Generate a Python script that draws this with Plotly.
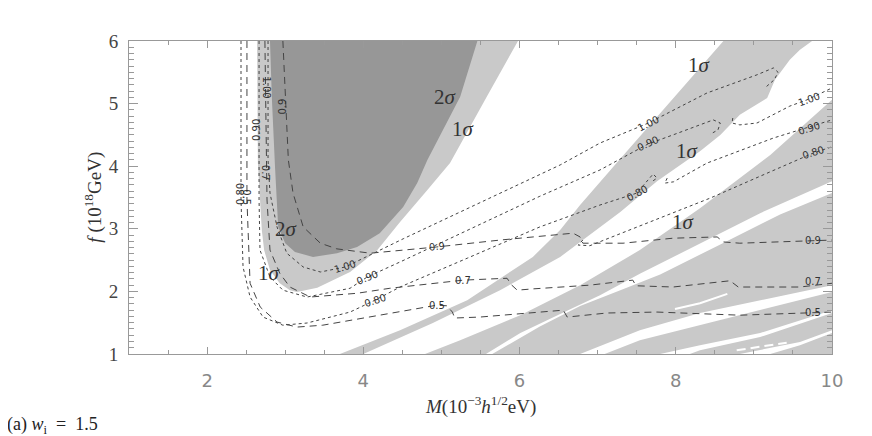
import plotly.graph_objects as go

# ---- shaded regions (M in 1e-3 h^1/2 eV, f in 1e18 GeV) ----
one_sig_M = [2.64, 2.65, 2.70, 2.73, 2.805, 2.93, 3.06, 3.15, 3.41, 3.83, 4.18, 4.47, 4.82, 5.11, 5.58, 5.98]
one_sig_f = [6.0, 4.05, 2.98, 2.66, 2.34, 2.13, 2.02, 1.99, 2.06, 2.31, 2.66, 3.11, 3.62, 4.05, 5.11, 6.0]

two_sig_M = [2.805, 2.83, 2.87, 2.895, 2.91, 3.00, 3.125, 3.356, 3.663, 3.92, 4.21, 4.51, 4.69, 4.82, 4.99, 5.24, 5.46]
two_sig_f = [6.0, 5.06, 3.97, 3.30, 3.03, 2.77, 2.63, 2.55, 2.61, 2.71, 2.93, 3.35, 3.73, 4.10, 4.50, 5.11, 6.0]

band1_M = [3.70, 4.47, 5.33, 6.17, 6.52, 6.775, 7.22, 7.67, 8.18, 8.61, 9.745, 9.59, 9.46, 9.27, 9.17,
           8.82, 8.57, 8.31, 7.76, 7.29, 6.52, 5.75, 4.89, 4.00]
band1_f = [1.0, 1.38, 1.86, 2.55, 2.98, 3.38, 4.02, 4.66, 5.38, 6.0, 6.0, 5.86, 5.70, 5.38, 5.09,
           4.82, 4.50, 4.24, 3.76, 3.27, 2.55, 2.02, 1.495, 1.0]
band2_M = [10.0, 9.21, 8.31, 7.54, 6.775, 6.01, 5.24, 4.79, 5.57, 6.01, 6.52, 7.03, 7.54, 8.31, 9.08, 10.0]
band2_f = [5.06, 4.18, 3.33, 2.66, 2.10, 1.62, 1.22, 1.0, 1.0, 1.335, 1.64, 1.94, 2.28, 2.77, 3.25, 3.76]
band3_M = [10.0, 9.335, 8.57, 7.80, 7.29, 6.775, 6.26, 5.65, 6.775, 7.54, 8.31, 9.08, 10.0]
band3_f = [3.57, 3.23, 2.75, 2.27, 2.02, 1.765, 1.44, 1.0, 1.0, 1.38, 1.655, 1.86, 2.10]
band4_M = [10.0, 9.08, 8.31, 7.54, 7.09, 7.80, 8.31, 9.08, 10.0]
band4_f = [1.99, 1.70, 1.46, 1.22, 1.0, 1.0, 1.14, 1.335, 1.70]
band5_M = [10.0, 9.08, 8.31, 8.18, 8.82, 9.59, 10.0]
band5_f = [1.655, 1.27, 1.06, 1.0, 1.0, 1.19, 1.38]
band6_M = [10.0, 9.59, 9.21, 10.0]
band6_f = [1.335, 1.14, 1.0, 1.0]

# thin white gaps inside the shaded bands
sliver_M = [7.99, 8.31, 8.66]
sliver_f = [1.72, 1.81, 1.96]
gapdash_M = [8.78, 9.42]
gapdash_f = [1.06, 1.18]

# ---- contour lines: dotted (1.00, 0.90, 0.80) and dashed (0.9, 0.7, 0.5) ----
dot100_M = [2.78, 2.78, 2.805, 2.895, 3.02, 3.23, 3.45, 3.77, 4.51, 5.11, 5.75, 6.52, 7.03, 7.65, 8.40, 9.04, 9.25, 9.31, 9.26, 9.14]
dot100_f = [6.0, 4.10, 3.57, 3.03, 2.61, 2.39, 2.31, 2.39, 2.84, 3.19, 3.57, 4.02, 4.37, 4.69, 5.17, 5.46, 5.57, 5.50, 5.38, 5.25]
dot100b_M = [8.73, 8.72, 8.82, 9.04, 9.46, 9.68, 10.0]
dot100b_f = [4.77, 4.69, 4.66, 4.69, 4.96, 5.06, 5.25]
dot090_M = [2.665, 2.665, 2.677, 2.805, 2.97, 3.28, 3.83, 4.05, 4.47, 5.33, 6.26, 7.03, 7.645, 7.965, 8.48, 8.57, 8.54, 8.44]
dot090_f = [6.0, 3.46, 2.66, 2.23, 2.02, 1.91, 2.05, 2.23, 2.47, 2.98, 3.52, 3.94, 4.355, 4.50, 4.74, 4.69, 4.58, 4.51]
dot090b_M = [7.89, 7.86, 7.97, 8.40, 9.25, 9.68, 10.0]
dot090b_f = [3.81, 3.73, 3.75, 4.05, 4.45, 4.61, 4.74]
dot080_M = [2.434, 2.434, 2.46, 2.55, 2.716, 2.97, 3.28, 3.83, 4.15, 4.47, 5.33, 6.26, 7.03, 7.50, 7.71, 7.76, 7.69]
dot080_f = [6.0, 3.46, 2.39, 1.91, 1.59, 1.46, 1.495, 1.67, 1.86, 2.07, 2.53, 3.03, 3.38, 3.57, 3.875, 3.81, 3.75]
dot080b_M = [6.81, 6.75, 6.90, 7.67, 8.44, 9.08, 9.76, 10.0]
dot080b_f = [2.82, 2.74, 2.73, 3.11, 3.49, 3.84, 4.21, 4.31]

dash09_M = [2.97, 3.00, 3.04, 3.10, 3.23, 3.45, 3.66, 4.09, 4.51, 4.94, 5.75, 6.685, 6.775, 6.81, 7.325, 7.965, 8.53, 8.61, 8.82, 9.59, 10.0]
dash09_f = [6.0, 5.06, 4.10, 3.57, 3.03, 2.77, 2.68, 2.61, 2.66, 2.71, 2.82, 2.93, 2.87, 2.77, 2.77, 2.85, 2.87, 2.79, 2.77, 2.81, 2.82]
dash07_M = [2.74, 2.754, 2.767, 2.805, 2.93, 3.06, 3.32, 3.92, 4.34, 5.28, 5.84, 5.90, 5.97, 6.17, 6.90, 7.45, 7.49, 7.965, 8.695, 8.80, 9.59, 10.0]
dash07_f = [6.0, 4.10, 3.46, 2.66, 2.29, 2.07, 1.91, 1.97, 2.05, 2.18, 2.21, 2.10, 2.02, 2.04, 2.10, 2.18, 2.09, 2.07, 2.17, 2.07, 2.07, 2.13]
dash05_M = [2.51, 2.51, 2.55, 2.68, 2.895, 3.15, 3.48, 4.34, 4.94, 5.07, 5.14, 5.17, 5.49, 6.56, 6.61, 7.12, 7.76, 8.82, 9.59, 10.0]
dash05_f = [6.0, 3.46, 2.13, 1.75, 1.51, 1.43, 1.46, 1.655, 1.78, 1.77, 1.67, 1.575, 1.59, 1.70, 1.59, 1.655, 1.67, 1.62, 1.655, 1.67]

# contour labels: text, M, f, angle
clabel_txt = ["1.00", "0.90", "0.80", "0.9", "0.7", "0.5",
              "1.00", "0.90", "0.80", "0.9", "0.7", "0.5",
              "1.00", "0.90", "0.80", "1.00", "0.90", "0.80", "0.9", "0.7", "0.5"]
clabel_M = [2.76, 2.64, 2.43, 2.97, 2.75, 2.50,
            3.77, 4.05, 4.15, 4.94, 5.28, 4.94,
            7.65, 7.645, 7.50, 9.70, 9.70, 9.76, 9.76, 9.76, 9.76]
clabel_f = [5.25, 4.58, 3.55, 4.95, 3.90, 3.50,
            2.39, 2.23, 1.86, 2.71, 2.18, 1.78,
            4.69, 4.355, 3.57, 5.06, 4.60, 4.22, 2.82, 2.16, 1.66]
clabel_ang = [90, -90, -90, -90, 90, 90,
              -18, -22, -18, -5, 0, 0,
              -27, -25, -28, -20, -18, -18, 0, 0, 0]

# confidence labels
sig_txt = ["2", "1", "2", "1", "1", "1", "1"]
sig_M = [5.05, 5.28, 3.02, 2.80, 8.30, 8.15, 8.10]
sig_f = [5.10, 4.60, 3.00, 2.30, 5.62, 4.24, 3.11]

fig = go.Figure()

LIGHT = "#c9c9c9"
DARK = "#979797"

fills = [(one_sig_M, one_sig_f, LIGHT), (two_sig_M, two_sig_f, DARK),
         (band1_M, band1_f, LIGHT), (band2_M, band2_f, LIGHT), (band3_M, band3_f, LIGHT),
         (band4_M, band4_f, LIGHT), (band5_M, band5_f, LIGHT), (band6_M, band6_f, LIGHT)]
for xs, ys, col in fills:
    fig.add_trace(go.Scatter(x=xs, y=ys, mode="lines", fill="toself", fillcolor=col,
                             line=dict(width=0, color=col), hoverinfo="skip", showlegend=False))

fig.add_trace(go.Scatter(x=sliver_M, y=sliver_f, mode="lines", line=dict(color="white", width=2),
                         hoverinfo="skip", showlegend=False))
fig.add_trace(go.Scatter(x=gapdash_M, y=gapdash_f, mode="lines",
                         line=dict(color="white", width=2, dash="9px,5px"),
                         hoverinfo="skip", showlegend=False))

dotted = [(dot100_M, dot100_f), (dot100b_M, dot100b_f), (dot090_M, dot090_f),
          (dot090b_M, dot090b_f), (dot080_M, dot080_f), (dot080b_M, dot080b_f)]
for xs, ys in dotted:
    fig.add_trace(go.Scatter(x=xs, y=ys, mode="lines", line=dict(color="#444", width=1, dash="dot"),
                             hoverinfo="skip", showlegend=False))
dashed = [(dash09_M, dash09_f), (dash07_M, dash07_f), (dash05_M, dash05_f)]
for xs, ys in dashed:
    fig.add_trace(go.Scatter(x=xs, y=ys, mode="lines", line=dict(color="#444", width=1, dash="7px,5px"),
                             hoverinfo="skip", showlegend=False))

for t, xm, yf, a in zip(clabel_txt, clabel_M, clabel_f, clabel_ang):
    fig.add_annotation(x=xm, y=yf, text=t, showarrow=False, textangle=a,
                       font=dict(family="DejaVu Sans", size=10, color="#333"))

for t, xm, yf in zip(sig_txt, sig_M, sig_f):
    fig.add_annotation(x=xm, y=yf, text=t + "<i>σ</i>", showarrow=False,
                       font=dict(family="Liberation Serif", size=21, color="#333"))

axis_common = dict(showline=True, linecolor="#999", linewidth=1, mirror="ticks",
                   ticks="inside", tickcolor="#999", showgrid=False, zeroline=False)
fig.update_xaxes(range=[1, 10], tickvals=[2, 4, 6, 8, 10], ticklen=7,
                 minor=dict(ticks="inside", dtick=0.5, tick0=0, ticklen=4, tickcolor="#999"),
                 tickfont=dict(family="DejaVu Sans", size=18, color="#888"),
                 ticklabelstandoff=10, **axis_common)
fig.update_yaxes(range=[1, 6], dtick=1, ticklen=9,
                 minor=dict(ticks="inside", dtick=0.1, ticklen=5, tickcolor="#999"),
                 tickfont=dict(family="Liberation Serif", size=19, color="#444"),
                 ticklabelstandoff=6, **axis_common)

# axis titles and panel tag (paper units relative to the plot area)
fig.add_annotation(xref="paper", yref="paper", x=0.5, y=-0.163, yanchor="middle", showarrow=False,
                   text="<i>M</i>(10<sup>−3</sup><i>h</i><sup>1/2</sup>eV)",
                   font=dict(family="Liberation Serif", size=19, color="#333"))
fig.add_annotation(xref="paper", yref="paper", x=-0.051, y=0.5, xanchor="center", showarrow=False,
                   textangle=-90, text="<i>f</i> (10<sup>18</sup>GeV)",
                   font=dict(family="Liberation Serif", size=19, color="#333"))
fig.add_annotation(xref="paper", yref="paper", x=-0.176, y=-0.227, xanchor="left", yanchor="middle",
                   showarrow=False, text="(a) <i>w</i><sub>i</sub>  =  1.5",
                   font=dict(family="Liberation Serif", size=18, color="#222"))

# the page body adds an 8px offset, so the figure is sized to fit the window
fig.update_layout(width=864, height=428, margin=dict(l=121, r=40, t=33, b=82),
                  plot_bgcolor="white", paper_bgcolor="white")

fig.write_html("out.html")
